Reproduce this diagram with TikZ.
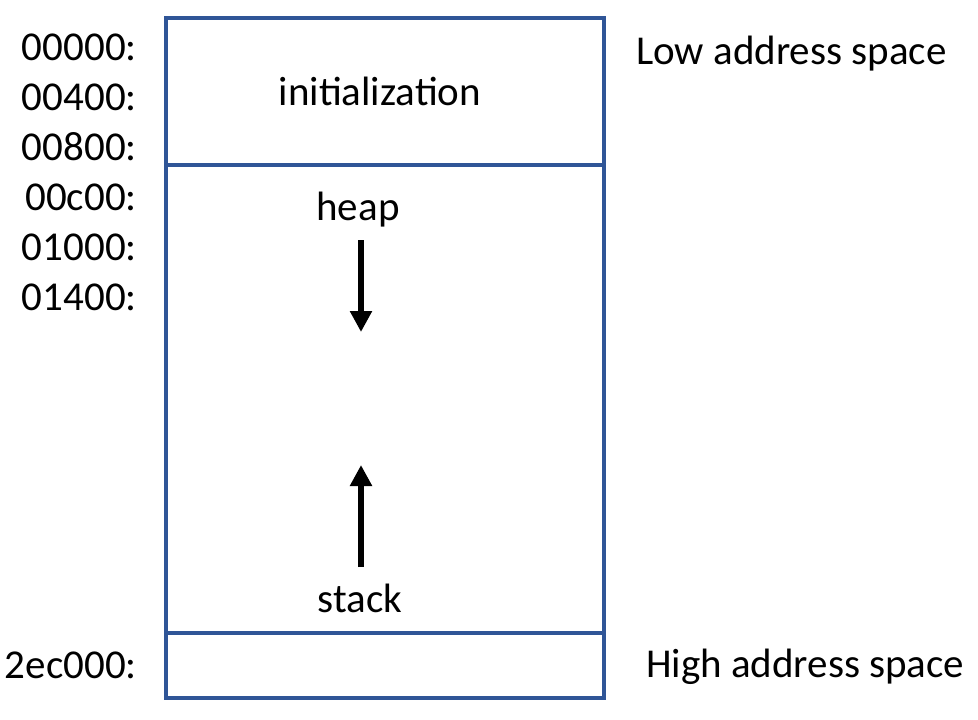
\documentclass[tikz,border=0pt]{standalone}
\usepackage{fontspec}
\setmainfont{Carlito}
\usepackage{xcolor}
\usetikzlibrary{arrows.meta}
\definecolor{boxblue}{RGB}{47,85,151}

\begin{document}
\begin{tikzpicture}[x=1pt,y=-1pt,
		every node/.style={inner sep=0pt, font=\fontsize{41}{49}\selectfont},
		addr/.style={anchor=base east},
		side/.style={anchor=base west},
		region/.style={draw=boxblue, line width=4pt},
		growarrow/.style={line width=6pt, -{Triangle[length=21pt,width=21pt]}}]
		\useasboundingbox (0,0) rectangle (978,720);
		% memory block
		\draw [region] (166,18) rectangle (604,698);
		\draw [region] (166,165) -- (604,165);
		\draw [region] (166,633) -- (604,633);
		% addresses
		\node [addr] (a0) at (137,60) {00000:};
		\node [addr] (a1) at (137,110) {00400:};
		\node [addr] (a2) at (137,160) {00800:};
		\node [addr] (a3) at (137,210) {00c00:};
		\node [addr] (a4) at (137,260) {01000:};
		\node [addr] (a5) at (137,310) {01400:};
		\node [addr] (a6) at (137,678) {2ec000:};
		% segments
		\node [anchor=base] (init) at (380,105) {initialization};
		\node [anchor=base] (heap) at (358,220) {heap};
		\node [anchor=base] (stack) at (360,612) {stack};
		\node [side] (low) at (636,64) {Low address space};
		\node [side] (high) at (646,677) {High address space};
		% growth
		\coordinate (heaptop) at (361,240);
		\coordinate (heapend) at (361,332);
		\coordinate (stackbot) at (361,567);
		\coordinate (stackend) at (361,465);
		\draw [growarrow] (heaptop) -- (heapend);
		\draw [growarrow] (stackbot) -- (stackend);
	\end{tikzpicture}
\end{document}
